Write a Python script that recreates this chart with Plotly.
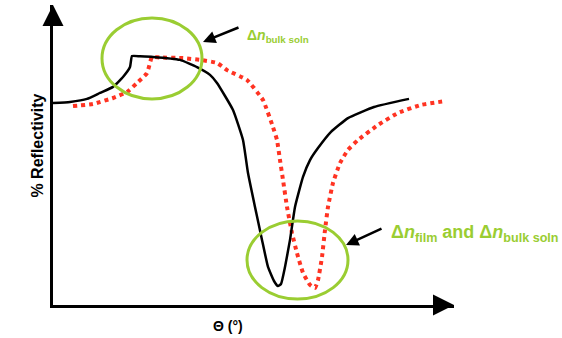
import plotly.graph_objects as go

# SPR curves, angle in arbitrary units (0-100), reflectivity in %
theta_before = [0, 4.25, 8.5, 11.75, 15, 17.5, 19.25, 19.75, 21.75, 25, 31.75, 36, 39.25,
                41, 45, 47.5, 48.75, 50.5, 52.25, 53.75, 55.25, 56.25, 57, 58, 59.25,
                60.5, 62.5, 64.25, 66.25, 69.5, 73.75, 80.25, 89]
refl_before = [67.3, 67.7, 68.7, 70.7, 72.7, 76, 79.3, 83, 82.9, 82.7, 81.7, 79.3, 76.7,
               74, 65, 55, 44, 32.7, 21.7, 12.7, 8, 6.3, 7, 12.7, 21.7,
               32.7, 42.7, 48.3, 52.3, 57.7, 62.3, 66, 68.7]

theta_after = [5, 10, 15, 18.5, 21, 23.5, 24.25, 24.75, 26.75, 32.5, 36.75, 41, 43.5, 48.5,
               52.5, 55, 56, 56.75, 57.5, 58.5, 59.75, 61, 62.5, 64.25, 65.5, 66.25,
               67.25, 68, 68.75, 70, 71.75, 73.75, 76.25, 81.25, 86.25, 92, 98.25]
refl_after = [66.3, 67, 69, 71, 74, 77.3, 80.7, 82.7, 82.5, 82.3, 81.7, 80.7, 78.3, 75,
              68.3, 59.3, 55, 48.3, 41.7, 32.7, 24, 17.3, 10.7, 6.7, 5.7, 8.3,
              16, 25, 32.7, 40.7, 47.3, 51.7, 55, 60, 64, 66.7, 68]

label_top = "<b>Δ<i>n</i><sub>bulk soln</sub></b>"
label_bottom = "<b>Δ<i>n</i><sub>film</sub> and Δ<i>n</i><sub>bulk soln</sub></b>"

green = "#9acd32"
font = "Liberation Sans, Arial, sans-serif"

fig = go.Figure()

fig.add_trace(go.Scatter(
    x=theta_after, y=refl_after, mode="lines",
    line=dict(color="#ff3322", width=4, dash="4px,4px", shape="spline", smoothing=0.4),
))
fig.add_trace(go.Scatter(
    x=theta_before, y=refl_before, mode="lines",
    line=dict(color="black", width=2.5, shape="spline", smoothing=0.4),
))

# arrow heads on the axes
fig.add_trace(go.Scatter(
    x=[0, 100.25], y=[100, 0], mode="markers", cliponaxis=False,
    marker=dict(symbol=["arrow-up", "arrow-right"], size=21, color="black",
                line=dict(width=0)),
))

# highlight ellipses
fig.add_shape(type="circle", x0=12.25, x1=37.25, y0=68.7, y1=95.7,
              line=dict(color=green, width=3))
fig.add_shape(type="circle", x0=48.5, x1=73.75, y0=2, y1=28,
              line=dict(color=green, width=3))

# pointer arrows
fig.add_annotation(x=37.5, y=87.7, ax=37, ay=-15, text="", showarrow=True,
                   arrowhead=2, arrowsize=1, arrowwidth=2.5, arrowcolor="black")
fig.add_annotation(x=73.25, y=20, ax=37, ay=-17, text="", showarrow=True,
                   arrowhead=2, arrowsize=1, arrowwidth=2.5, arrowcolor="black")

fig.add_annotation(x=48, y=89.7, text=label_top, showarrow=False, xanchor="left",
                   font=dict(family=font, size=14, color=green))
fig.add_annotation(x=84, y=24, text=label_bottom, showarrow=False, xanchor="left",
                   font=dict(family=font, size=18, color=green))

# axis titles
fig.add_annotation(xref="paper", x=-0.041, y=53, text="<b>% Reflectivity</b>",
                   textangle=-90, showarrow=False, xanchor="center", yanchor="middle",
                   font=dict(family=font, size=16, color="black"))
fig.add_annotation(x=43.75, yref="paper", y=-0.07, text="<b>Θ (°)</b>",
                   showarrow=False, xanchor="center", yanchor="middle",
                   font=dict(family=font, size=14, color="black"))

fig.update_layout(
    width=562, height=338,
    margin=dict(l=53, r=108, t=5, b=33),
    plot_bgcolor="white", paper_bgcolor="white",
    showlegend=False,
    xaxis=dict(range=[0, 100.25], showgrid=False, zeroline=False, showticklabels=False,
               ticks="", showline=True, linewidth=3, linecolor="black"),
    yaxis=dict(range=[0, 100], showgrid=False, zeroline=False, showticklabels=False,
               ticks="", showline=True, linewidth=3, linecolor="black"),
)

fig.write_html("out.html", config={"displayModeBar": False},
               post_script="document.body.style.margin='0px';")
